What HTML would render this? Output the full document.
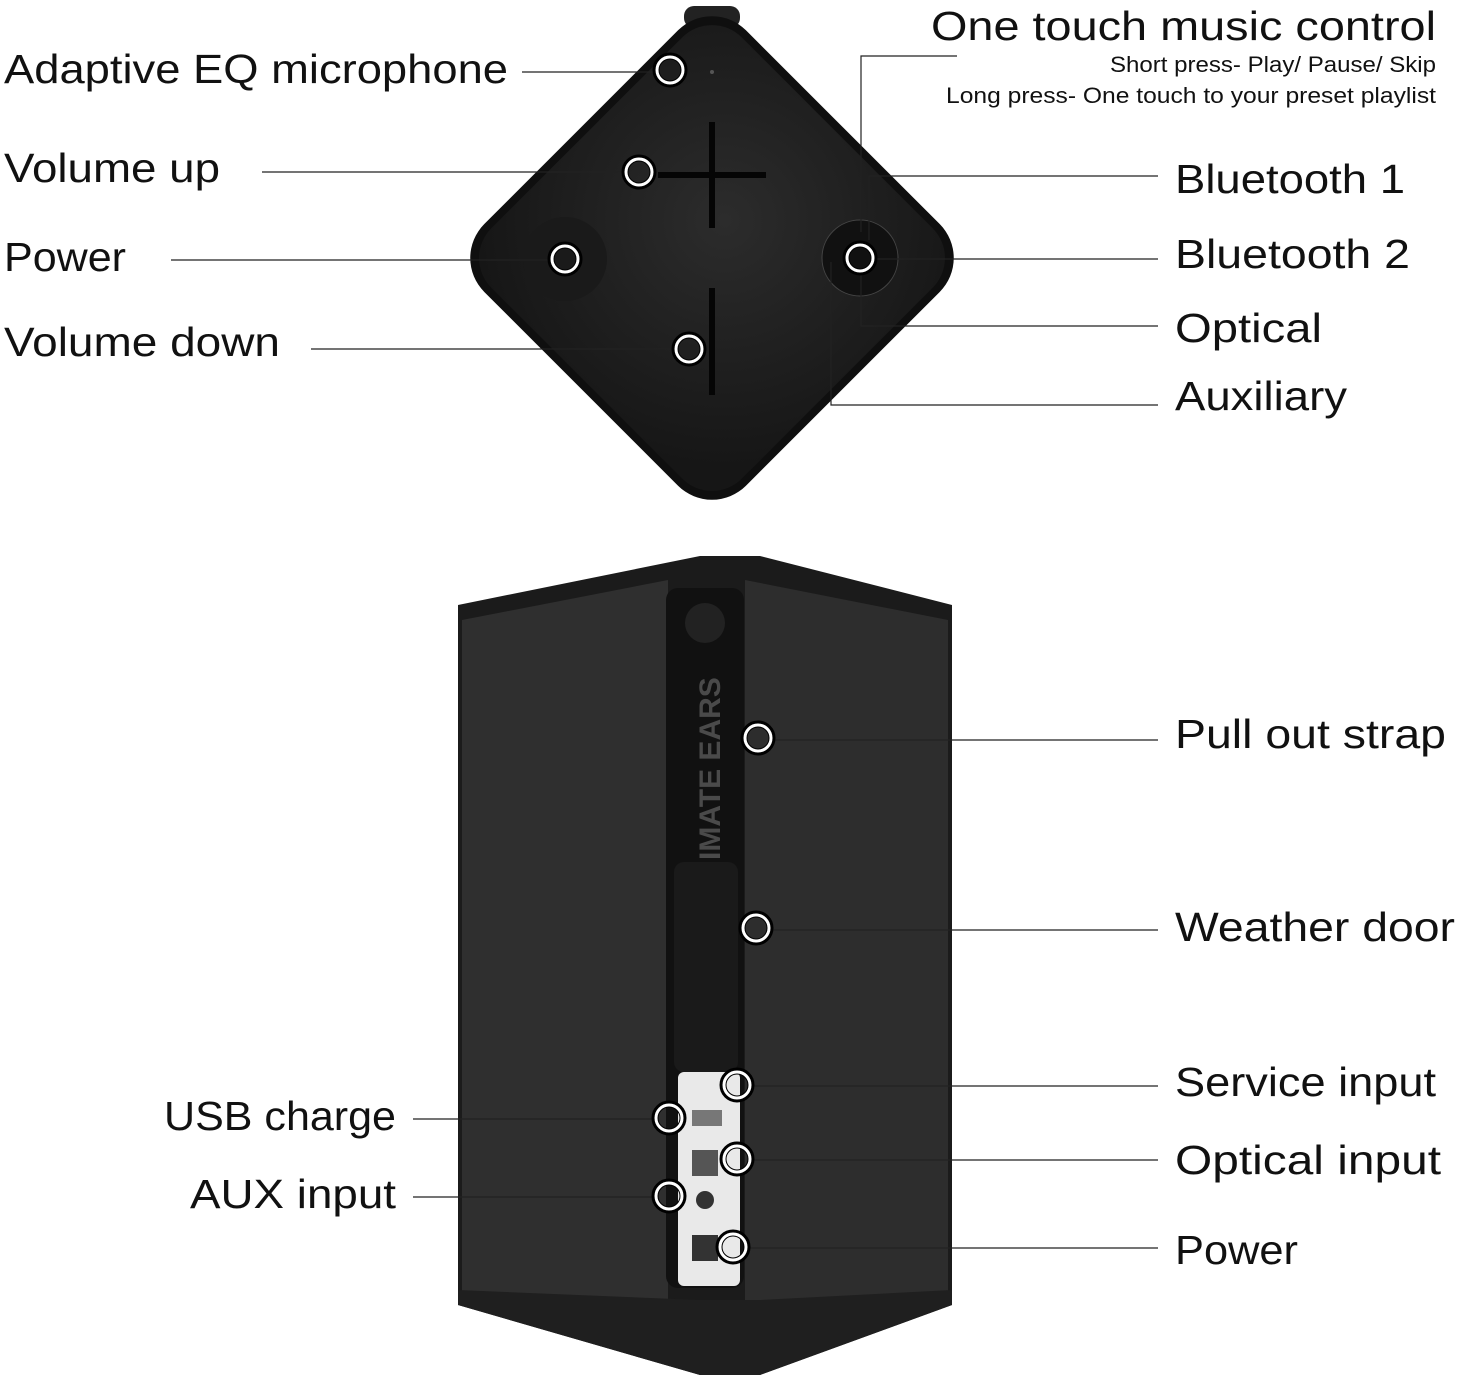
<!DOCTYPE html>
<html><head><meta charset="utf-8"><style>
html,body{margin:0;padding:0;background:#fff;}
body{width:1458px;height:1377px;position:relative;overflow:hidden;font-family:"Liberation Sans",sans-serif;}
svg{position:absolute;left:0;top:0;}
.t{font-family:"Liberation Sans",sans-serif;fill:#111;}
</style></head><body>
<svg width="1458" height="1377" viewBox="0 0 1458 1377">
<defs>
<radialGradient id="g1" cx="0.45" cy="0.4" r="0.7"><stop offset="0" stop-color="#2c2c2c"/><stop offset="1" stop-color="#161616"/></radialGradient>
</defs>
<!-- top diamond -->
<rect x="684" y="6" width="56" height="22" rx="10" fill="#222"/>
<rect x="527" y="73" width="370" height="370" rx="48" transform="rotate(45 712 258)" fill="#0f0f0f"/>
<rect x="535" y="81" width="354" height="354" rx="42" transform="rotate(45 712 258)" fill="url(#g1)"/>
<line x1="712" y1="122" x2="712" y2="228" stroke="#050505" stroke-width="6"/>
<line x1="658" y1="175" x2="766" y2="175" stroke="#050505" stroke-width="6"/>
<line x1="712" y1="288" x2="712" y2="395" stroke="#050505" stroke-width="6"/>
<circle cx="565" cy="259" r="42" fill="#1a1a1a"/>
<circle cx="860" cy="258" r="38" fill="#111" stroke="#444" stroke-width="1"/>
<circle cx="712" cy="72" r="2" fill="#555"/>
<!-- bottom speaker -->
<path d="M458 605 L700 556 L760 556 L952 605 L952 1305 L760 1375 L700 1375 L458 1305 Z" fill="#1b1b1b"/>
<path d="M462 620 L668 580 L668 1300 L462 1300 Z" fill="#2f2f2f"/>
<path d="M745 580 L948 620 L948 1300 L745 1300 Z" fill="#2d2d2d"/>
<path d="M458 1290 L700 1300 L760 1300 L952 1290 L952 1305 L760 1375 L700 1375 L458 1305 Z" fill="#1f1f1f"/>
<rect x="666" y="588" width="78" height="700" rx="12" fill="#111"/>
<circle cx="705" cy="623" r="20" fill="#222"/>
<text x="0" y="0" transform="translate(720 860) rotate(-90)" font-size="30" font-weight="bold" class="t" style="fill:#4a4a4a">IMATE EARS</text>
<rect x="674" y="862" width="64" height="210" rx="10" fill="#1a1a1a"/>
<rect x="678" y="1072" width="62" height="214" rx="6" fill="#e9e9e9"/>
<rect x="692" y="1110" width="30" height="16" fill="#777"/>
<rect x="692" y="1150" width="26" height="26" fill="#555"/>
<circle cx="705" cy="1200" r="9" fill="#333"/>
<rect x="692" y="1235" width="26" height="26" fill="#333"/>
<!-- lines -->
<g stroke="#222" stroke-width="1.2" fill="none">
<line x1="522" y1="72" x2="655" y2="72"/>
<line x1="262" y1="172" x2="624" y2="172"/>
<line x1="171" y1="260" x2="550" y2="260"/>
<line x1="311" y1="349" x2="674" y2="349"/>
<polyline points="957,56 861,56 861,232"/>
<polyline points="1158,176 869,176 869,240"/>
<line x1="1158" y1="259" x2="876" y2="259"/>
<polyline points="1158,326 861,326 861,275"/>
<polyline points="1158,405 831,405 831,262"/>
<line x1="772" y1="740" x2="1158" y2="740"/>
<line x1="770" y1="930" x2="1158" y2="930"/>
<line x1="751" y1="1086" x2="1158" y2="1086"/>
<line x1="751" y1="1160" x2="1158" y2="1160"/>
<line x1="747" y1="1248" x2="1158" y2="1248"/>
<line x1="413" y1="1119" x2="655" y2="1119"/>
<line x1="413" y1="1197" x2="655" y2="1197"/>
</g>
<!-- circles -->
<g fill="none">
<g stroke="#000" stroke-width="7">
<circle cx="670" cy="70" r="14"/><circle cx="639" cy="172" r="14"/><circle cx="565" cy="259" r="14"/><circle cx="689" cy="349" r="14"/><circle cx="860" cy="258" r="14"/>
<circle cx="758" cy="738" r="14"/><circle cx="756" cy="928" r="14"/><circle cx="737" cy="1085" r="14"/><circle cx="737" cy="1159" r="14"/><circle cx="733" cy="1247" r="14"/><circle cx="669" cy="1118" r="14"/><circle cx="669" cy="1196" r="14"/>
</g>
<g stroke="#fff" stroke-width="3">
<circle cx="670" cy="70" r="13"/><circle cx="639" cy="172" r="13"/><circle cx="565" cy="259" r="13"/><circle cx="689" cy="349" r="13"/><circle cx="860" cy="258" r="13"/>
<circle cx="758" cy="738" r="13"/><circle cx="756" cy="928" r="13"/><circle cx="737" cy="1085" r="13"/><circle cx="737" cy="1159" r="13"/><circle cx="733" cy="1247" r="13"/><circle cx="669" cy="1118" r="13"/><circle cx="669" cy="1196" r="13"/>
</g>
</g>
<!-- labels -->
<g class="t" font-size="41">
<text x="4" y="83" textLength="504" lengthAdjust="spacingAndGlyphs">Adaptive EQ microphone</text>
<text x="4" y="182" textLength="216" lengthAdjust="spacingAndGlyphs">Volume up</text>
<text x="4" y="271" textLength="122" lengthAdjust="spacingAndGlyphs">Power</text>
<text x="4" y="356" textLength="276" lengthAdjust="spacingAndGlyphs">Volume down</text>
<text x="1436" y="40" text-anchor="end" textLength="505" lengthAdjust="spacingAndGlyphs">One touch music control</text>
<text x="1175" y="193" textLength="230" lengthAdjust="spacingAndGlyphs">Bluetooth 1</text>
<text x="1175" y="268" textLength="235" lengthAdjust="spacingAndGlyphs">Bluetooth 2</text>
<text x="1175" y="342" textLength="147" lengthAdjust="spacingAndGlyphs">Optical</text>
<text x="1175" y="410" textLength="172" lengthAdjust="spacingAndGlyphs">Auxiliary</text>
<text x="1175" y="748" textLength="271" lengthAdjust="spacingAndGlyphs">Pull out strap</text>
<text x="1175" y="941" textLength="280" lengthAdjust="spacingAndGlyphs">Weather door</text>
<text x="1175" y="1096" textLength="261" lengthAdjust="spacingAndGlyphs">Service input</text>
<text x="1175" y="1174" textLength="266" lengthAdjust="spacingAndGlyphs">Optical input</text>
<text x="1175" y="1264" textLength="123" lengthAdjust="spacingAndGlyphs">Power</text>
<text x="164" y="1130" textLength="232" lengthAdjust="spacingAndGlyphs">USB charge</text>
<text x="190" y="1208" textLength="206" lengthAdjust="spacingAndGlyphs">AUX input</text>
</g>
<g class="t" font-size="22">
<text x="1436" y="72" text-anchor="end" textLength="326" lengthAdjust="spacingAndGlyphs">Short press- Play/ Pause/ Skip</text>
<text x="1436" y="103" text-anchor="end" textLength="490" lengthAdjust="spacingAndGlyphs">Long press- One touch to your preset playlist</text>
</g>
</svg>
</body></html>
